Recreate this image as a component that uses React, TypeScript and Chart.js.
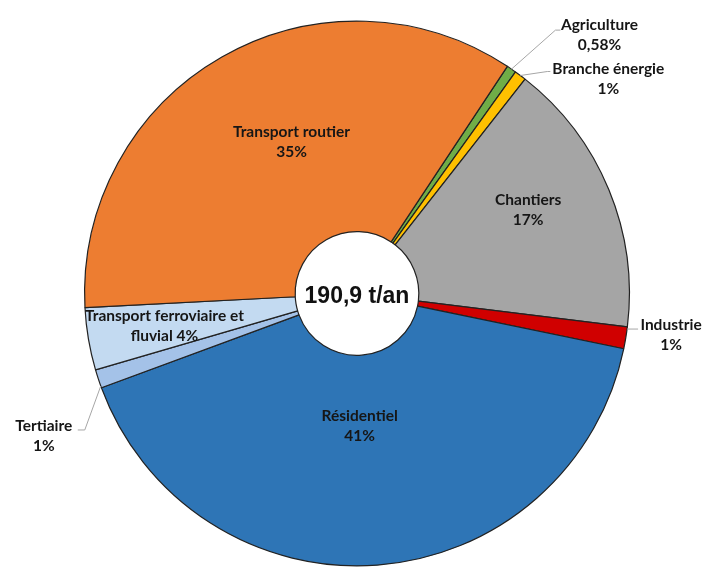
import React, { useEffect, useRef } from "react";
import { Chart, registerables } from "chart.js";

Chart.register(...registerables);

// ---- data ----
const categories = [
  "Agriculture",
  "Branche énergie",
  "Chantiers",
  "Industrie",
  "Résidentiel",
  "Tertiaire",
  "Transport ferroviaire et fluvial",
  "Transport routier",
];
const shares = [0.58, 0.7, 16.4, 1.3, 41.2, 1.1, 3.7, 35.2];
const labelLines = [
  ["Agriculture", "0,58%"],
  ["Branche énergie", "1%"],
  ["Chantiers", "17%"],
  ["Industrie", "1%"],
  ["Résidentiel", "41%"],
  ["Tertiaire", "1%"],
  ["Transport ferroviaire et", "fluvial 4%"],
  ["Transport routier", "35%"],
];
const totalLabel = "190,9 t/an";

// ---- styles ----
const colors = [
  "#70AD47",
  "#FFC000",
  "#A5A5A5",
  "#D00000",
  "#2E75B6",
  "#A4C2E8",
  "#C3DAF1",
  "#ED7D31",
];

type Place =
  | { mode: "inside"; frac: number; dx: number; dy: number }
  | {
      mode: "outside";
      t: number;
      elbow: [number, number];
      end: [number, number];
      text: [number, number];
    };

const placements: Place[] = [
  { mode: "outside", t: 0.5, elbow: [44, -39], end: [5, 0], text: [39, 4.5] },
  { mode: "outside", t: 0.5, elbow: [27, -4], end: [3, 0], text: [58, 7.5] },
  { mode: "inside", frac: 0.68, dx: 0, dy: -13 },
  { mode: "outside", t: 0.1, elbow: [11, 0], end: [0, 0], text: [33, 6] },
  { mode: "inside", frac: 0.478, dx: -7, dy: 3 },
  { mode: "outside", t: 0.1, elbow: [-16, 44], end: [-7, 0], text: [-34, 6] },
  { mode: "inside", frac: 0.717, dx: 0, dy: 0 },
  { mode: "inside", frac: 0.64, dx: 21, dy: 0 },
];

const LABEL_FONT = "bold 15.5px Lato";
const LINE_H = 20;

const labelPlugin = {
  id: "sliceLabels",
  afterDatasetsDraw(chart: any) {
    const ctx: CanvasRenderingContext2D = chart.ctx;
    const meta = chart.getDatasetMeta(0);
    ctx.save();
    meta.data.forEach((arc: any, i: number) => {
      const { x: cx, y: cy, startAngle, endAngle, outerRadius } = arc.getProps(
        ["x", "y", "startAngle", "endAngle", "outerRadius"],
        true
      );
      const p = placements[i];
      let tx: number, ty: number;
      if (p.mode === "inside") {
        const mid = (startAngle + endAngle) / 2;
        tx = cx + Math.cos(mid) * outerRadius * p.frac + p.dx;
        ty = cy + Math.sin(mid) * outerRadius * p.frac + p.dy;
      } else {
        const a = startAngle + (endAngle - startAngle) * p.t;
        const sx = cx + Math.cos(a) * outerRadius;
        const sy = cy + Math.sin(a) * outerRadius;
        const ex = sx + p.elbow[0];
        const ey = sy + p.elbow[1];
        const fx = ex + p.end[0];
        const fy = ey + p.end[1];
        ctx.strokeStyle = "#A6A6A6";
        ctx.lineWidth = 1;
        ctx.beginPath();
        ctx.moveTo(sx, sy);
        ctx.lineTo(ex, ey);
        ctx.lineTo(fx, fy);
        ctx.stroke();
        tx = fx + p.text[0];
        ty = fy + p.text[1];
      }
      const lines = labelLines[i];
      ctx.font = LABEL_FONT;
      ctx.fillStyle = "#161616";
      ctx.textAlign = "center";
      ctx.textBaseline = "middle";
      const top = ty - ((lines.length - 1) * LINE_H) / 2;
      lines.forEach((ln, k) => ctx.fillText(ln, tx, top + k * LINE_H));
    });
    // centre total
    const first = meta.data[0];
    if (first) {
      ctx.font = "bold 23px 'Liberation Sans', Arial, sans-serif";
      ctx.fillStyle = "#111";
      ctx.textAlign = "center";
      ctx.textBaseline = "middle";
      ctx.fillText(totalLabel, first.x, first.y + 3);
    }
    ctx.restore();
  },
};

export default function App() {
  const ref = useRef<HTMLCanvasElement | null>(null);
  useEffect(() => {
    if (!ref.current) return;
    const chart = new Chart(ref.current, {
      type: "doughnut",
      data: {
        labels: categories,
        datasets: [
          {
            data: shares,
            backgroundColor: colors,
            borderColor: "#222222",
            borderWidth: 1.2,
          },
        ],
      },
      options: {
        animation: false,
        responsive: false,
        maintainAspectRatio: false,
        rotation: 33.5,
        cutout: "22.7%",
        layout: { padding: { left: 84, right: 77, top: 20, bottom: 0 } },
        plugins: {
          legend: { display: false },
          tooltip: { enabled: false },
        },
      },
      plugins: [labelPlugin],
    });
    return () => chart.destroy();
  }, []);
  return (
    <div style={{ position: "absolute", left: 0, top: 0, width: 707, height: 567, background: "#fff" }}>
      <canvas ref={ref} width={707} height={567} style={{ width: 707, height: 567 }} />
    </div>
  );
}
